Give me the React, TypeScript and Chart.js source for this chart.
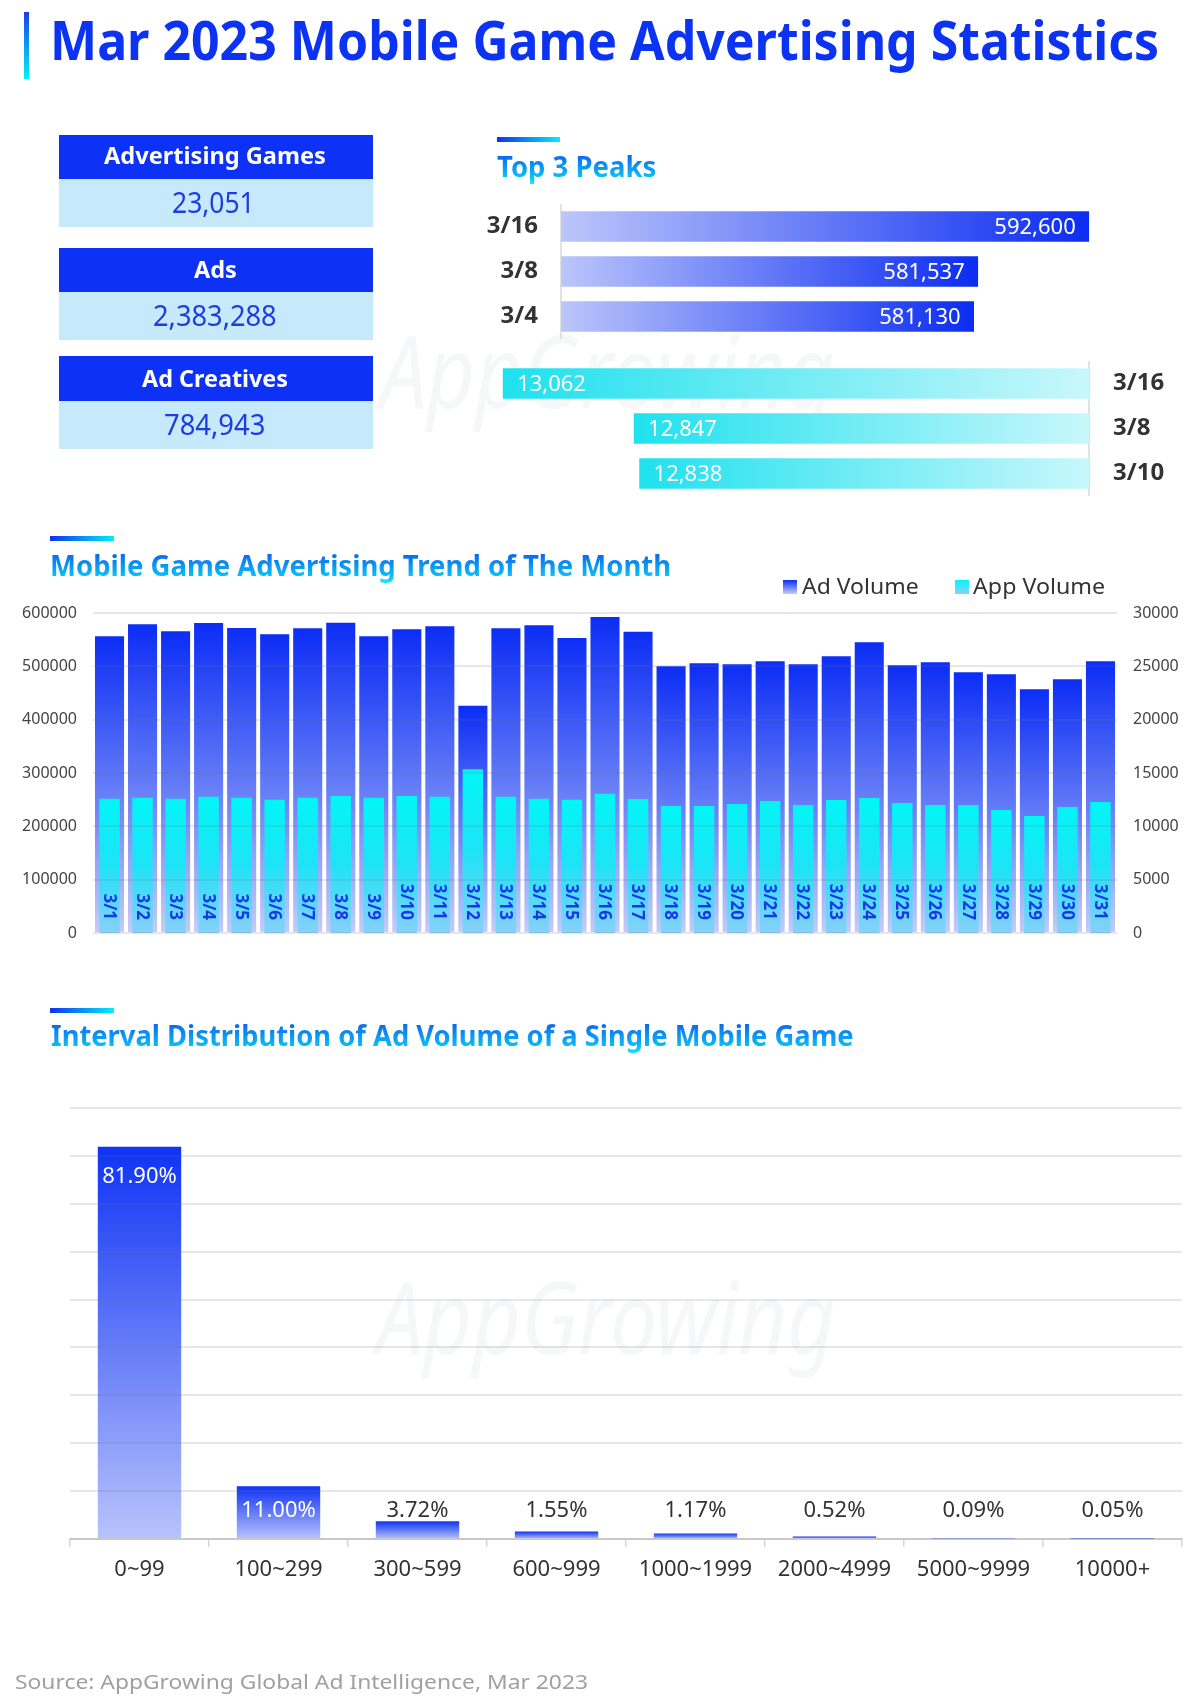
import React, { useEffect, useLayoutEffect, useRef } from 'react';
import { Chart, registerables } from 'chart.js';

Chart.register(...registerables);

const FONT = "'Noto Sans', 'Open Sans', sans-serif";
Chart.defaults.font.family = FONT;

// ---------- data ----------
const kpiTitles = ['Advertising Games', 'Ads', 'Ad Creatives'];
const kpiValues = ['23,051', '2,383,288', '784,943'];

const adPeakDates = ['3/16', '3/8', '3/4'];
const adPeakValues = [592600, 581537, 581130];
const appPeakDates = ['3/16', '3/8', '3/10'];
const appPeakValues = [13062, 12847, 12838];

const days = [
  '3/1', '3/2', '3/3', '3/4', '3/5', '3/6', '3/7', '3/8', '3/9', '3/10',
  '3/11', '3/12', '3/13', '3/14', '3/15', '3/16', '3/17', '3/18', '3/19', '3/20',
  '3/21', '3/22', '3/23', '3/24', '3/25', '3/26', '3/27', '3/28', '3/29', '3/30', '3/31',
];
const adVolume = [
  556300, 578800, 565600, 581130, 571900, 560000, 571300, 581537, 556300, 569400,
  575000, 426200, 571300, 576900, 553100, 592600, 565000, 500000, 505600, 503800,
  509400, 503800, 518800, 545000, 501900, 507500, 488800, 485000, 456900, 475600, 509400,
];
const appVolume = [
  12590, 12690, 12590, 12780, 12690, 12500, 12690, 12847, 12690, 12838,
  12780, 15340, 12780, 12590, 12500, 13062, 12560, 11900, 11900, 12090,
  12375, 12000, 12470, 12660, 12190, 12000, 12000, 11530, 10970, 11810, 12280,
];
const leftTicks = [0, 600000, 100000];
const rightTicks = [0, 30000, 5000];

const intervals = ['0~99', '100~299', '300~599', '600~999', '1000~1999', '2000~4999', '5000~9999', '10000+'];
const shares = [81.9, 11.0, 3.72, 1.55, 1.17, 0.52, 0.09, 0.05];

// ---------- helpers ----------
const fmt = (n: number) => String(n).replace(/\B(?=(\d{3})+(?!\d))/g, ',');

type FitProps = {
  text: string; x: number; cy: number; w: number; size: number;
  weight?: number; color?: string; bg?: string; italic?: boolean;
};
function Fit({ text, x, cy, w, size, weight = 400, color = '#333', bg, italic }: FitProps) {
  const ref = useRef<HTMLSpanElement>(null);
  useLayoutEffect(() => {
    const el = ref.current;
    if (!el) return;
    const fit = () => {
      const nat = el.offsetWidth;
      if (nat > 0) el.style.transform = `scaleX(${w / nat})`;
    };
    fit();
    const f = (document as any).fonts;
    if (f && f.ready) f.ready.then(fit);
  }, [text, w]);
  const style: any = {
    display: 'inline-block', whiteSpace: 'nowrap', fontFamily: FONT, fontSize: size,
    fontWeight: weight, lineHeight: 1.4, fontStyle: italic ? 'italic' : 'normal',
    transformOrigin: '0 50%', color,
  };
  if (bg) {
    style.backgroundImage = bg;
    style.WebkitBackgroundClip = 'text';
    style.backgroundClip = 'text';
    style.color = 'transparent';
    style.WebkitTextFillColor = 'transparent';
  }
  return (
    <div style={{ position: 'absolute', left: x, top: cy - 0.731 * size, height: 1.4 * size, whiteSpace: 'nowrap' }}>
      <span ref={ref} style={style}>{text}</span>
    </div>
  );
}

function Box({ x, y, w, h, bg }: { x: number; y: number; w: number; h: number; bg: string }) {
  return <div style={{ position: 'absolute', left: x, top: y, width: w, height: h, background: bg }} />;
}

function ChartCanvas({ x, y, w, h, make }: { x: number; y: number; w: number; h: number; make: () => any }) {
  const ref = useRef<HTMLCanvasElement>(null);
  useEffect(() => {
    const chart = new Chart(ref.current as HTMLCanvasElement, make());
    return () => chart.destroy();
  }, []);
  return (
    <canvas ref={ref} width={w} height={h}
      style={{ position: 'absolute', left: x, top: y, width: w, height: h, display: 'block' }} />
  );
}

const vGrad = (axis: string, c0: string, cMid: string | null, c1: string, fallback: string) => (c: any) => {
  const chart = c.chart;
  const area = chart.chartArea;
  if (!area || typeof c.raw !== 'number') return fallback;
  const sc = chart.scales[axis];
  let top = sc.getPixelForValue(c.raw);
  const bottom = sc.getPixelForValue(0);
  if (bottom - top < 1) top = bottom - 1;
  const g = chart.ctx.createLinearGradient(0, top, 0, bottom);
  g.addColorStop(0, c0);
  if (cMid) g.addColorStop(0.5, cMid);
  g.addColorStop(1, c1);
  return g;
};

const fixY = (width: number) => (s: any) => {
  s.width = width;
  s.paddingTop = 0;
  s.paddingBottom = 0;
};

// ---------- charts ----------
const adPeakConfig = () => ({
  type: 'bar',
  data: {
    labels: adPeakDates,
    datasets: [{
      data: adPeakValues,
      barThickness: 30,
      borderWidth: 0,
      backgroundColor: (c: any) => {
        const chart = c.chart;
        const area = chart.chartArea;
        if (!area || typeof c.raw !== 'number') return '#5a73f5';
        const end = chart.scales.x.getPixelForValue(c.raw);
        const g = chart.ctx.createLinearGradient(area.left, 0, end, 0);
        g.addColorStop(0, '#bcc6fb');
        g.addColorStop(1, '#0b2cf2');
        return g;
      },
    }],
  },
  options: {
    indexAxis: 'y', responsive: false, animation: false,
    layout: { padding: { left: 0, right: 37, top: 0, bottom: 0 } },
    plugins: { legend: { display: false }, tooltip: { enabled: false } },
    scales: {
      x: { display: false, min: 540000, max: 600000 },
      y: {
        position: 'left',
        grid: { display: false, drawTicks: false },
        border: { display: true, color: '#e2e2e2', width: 2 },
        ticks: { color: '#333', font: { size: 24, weight: 'bold' }, padding: 23 },
        afterFit: fixY(121),
      },
    },
  },
  plugins: [{
    id: 'adPeakLabels',
    afterDatasetsDraw(chart: any) {
      const { ctx } = chart;
      const meta = chart.getDatasetMeta(0);
      ctx.save();
      ctx.font = `22px ${FONT}`;
      ctx.fillStyle = '#ffffff';
      ctx.textAlign = 'right';
      ctx.textBaseline = 'middle';
      meta.data.forEach((bar: any, i: number) => {
        ctx.fillText(fmt(adPeakValues[i]), bar.x - 13, bar.y + 1);
      });
      ctx.restore();
    },
  }],
});

const appPeakConfig = () => ({
  type: 'bar',
  data: {
    labels: appPeakDates,
    datasets: [{
      data: appPeakValues,
      barThickness: 30,
      borderWidth: 0,
      backgroundColor: (c: any) => {
        const chart = c.chart;
        const area = chart.chartArea;
        if (!area || typeof c.raw !== 'number') return '#5ee8f0';
        const start = chart.scales.x.getPixelForValue(c.raw);
        const g = chart.ctx.createLinearGradient(start, 0, area.right, 0);
        g.addColorStop(0, '#1fe1ee');
        g.addColorStop(1, '#c8f7fb');
        return g;
      },
    }],
  },
  options: {
    indexAxis: 'y', responsive: false, animation: false,
    layout: { padding: { left: 10, right: 0, top: 0, bottom: 0 } },
    plugins: { legend: { display: false }, tooltip: { enabled: false } },
    scales: {
      x: { display: false, reverse: true, min: 12100, max: 13100 },
      y: {
        position: 'right',
        grid: { display: false, drawTicks: false },
        border: { display: true, color: '#e2e2e2', width: 2 },
        ticks: { color: '#333', font: { size: 24, weight: 'bold' }, padding: 24 },
        afterFit: fixY(111),
      },
    },
  },
  plugins: [{
    id: 'appPeakLabels',
    afterDatasetsDraw(chart: any) {
      const { ctx } = chart;
      const meta = chart.getDatasetMeta(0);
      ctx.save();
      ctx.font = `22px ${FONT}`;
      ctx.fillStyle = '#ffffff';
      ctx.textAlign = 'left';
      ctx.textBaseline = 'middle';
      meta.data.forEach((bar: any, i: number) => {
        ctx.fillText(fmt(appPeakValues[i]), bar.x + 14, bar.y + 1);
      });
      ctx.restore();
    },
  }],
});

const trendConfig = () => ({
  type: 'bar',
  data: {
    labels: days,
    datasets: [
      {
        label: 'Ad Volume', data: adVolume, yAxisID: 'y', order: 1, grouped: false,
        barPercentage: 0.88, categoryPercentage: 1, borderWidth: 0,
        backgroundColor: vGrad('y', '#0c2df5', '#6179f6', '#c3ccfa', '#3050f5'),
      },
      {
        label: 'App Volume', data: appVolume, yAxisID: 'y1', order: 0, grouped: false,
        barPercentage: 0.62, categoryPercentage: 1, borderWidth: 0,
        backgroundColor: vGrad('y1', '#02f6f6', '#1ee3f6', '#88d0fb', '#20e8f5'),
      },
    ],
  },
  options: {
    responsive: false, animation: false,
    layout: { padding: { left: 0, right: 0, top: 13, bottom: 12 } },
    plugins: { legend: { display: false }, tooltip: { enabled: false } },
    scales: {
      x: { display: false },
      y: {
        position: 'left', min: leftTicks[0], max: leftTicks[1],
        ticks: { stepSize: leftTicks[2], callback: (v: any) => String(v), color: '#444', font: { size: 16 }, padding: 16 },
        grid: { color: 'rgba(110,110,130,0.17)', lineWidth: 2, drawTicks: false, z: 1 },
        border: { display: false },
        afterFit: fixY(93),
      },
      y1: {
        position: 'right', min: rightTicks[0], max: rightTicks[1],
        ticks: { stepSize: rightTicks[2], callback: (v: any) => String(v), color: '#444', font: { size: 16 }, padding: 16 },
        grid: { display: false, drawTicks: false },
        border: { display: false },
        afterFit: fixY(83),
      },
    },
  },
  plugins: [{
    id: 'dayLabels',
    afterDatasetsDraw(chart: any) {
      const { ctx } = chart;
      const xs = chart.scales.x;
      const bottom = chart.chartArea.bottom;
      ctx.save();
      ctx.font = `bold 17px ${FONT}`;
      ctx.fillStyle = '#1438ea';
      ctx.textAlign = 'right';
      ctx.textBaseline = 'middle';
      days.forEach((d, i) => {
        const px = xs.getPixelForValue(i);
        ctx.save();
        ctx.translate(px - 1, bottom - 13);
        ctx.rotate(Math.PI / 2);
        ctx.fillText(d, 0, 0);
        ctx.restore();
      });
      ctx.restore();
    },
  }],
});

const distConfig = () => ({
  type: 'bar',
  data: {
    labels: intervals,
    datasets: [{
      data: shares, barPercentage: 0.6, categoryPercentage: 1, borderWidth: 0,
      backgroundColor: vGrad('y', '#0f33f5', null, '#b8c3fb', '#5a73f5'),
    }],
  },
  options: {
    responsive: false, animation: false,
    layout: { padding: { left: 70, right: 18, top: 13, bottom: 0 } },
    plugins: { legend: { display: false }, tooltip: { enabled: false } },
    scales: {
      x: {
        grid: { display: true, drawOnChartArea: false, drawTicks: true, tickLength: 8, color: '#d6d6d6', lineWidth: 1.5, offset: true },
        border: { display: true, color: '#dadada', width: 2 },
        ticks: { color: '#333', font: { size: 22 }, padding: 10 },
        afterFit: (s: any) => { s.height = 66; },
      },
      y: {
        min: 0, max: 90,
        ticks: { display: false, stepSize: 10 },
        grid: { color: 'rgba(110,110,130,0.17)', lineWidth: 2, drawTicks: false, z: 1 },
        border: { display: false },
        afterFit: (s: any) => { s.width = 0; },
      },
    },
  },
  plugins: [{
    id: 'shareLabels',
    afterDatasetsDraw(chart: any) {
      const { ctx } = chart;
      const meta = chart.getDatasetMeta(0);
      const bottom = chart.chartArea.bottom;
      ctx.save();
      ctx.font = `22px ${FONT}`;
      ctx.textAlign = 'center';
      ctx.textBaseline = 'middle';
      meta.data.forEach((bar: any, i: number) => {
        const y = Math.min(bar.y + 30, bottom - 28);
        ctx.fillStyle = y - 12 > bar.y ? '#ffffff' : '#333333';
        ctx.fillText(shares[i].toFixed(2) + '%', bar.x, y);
      });
      ctx.restore();
    },
  }],
});

// ---------- page ----------
const sectionGrad = 'linear-gradient(180deg, #0a5ef0 0%, #0a6ef0 25%, #0cc4f5 80%, #2ff2f8 100%)';
const accentGrad = 'linear-gradient(90deg, #1030f0 0%, #00f0f8 100%)';

const kpiLayout = [
  { top: 135, hh: 44, vh: 48, tx: 104, tw: 222, tcy: 156, vx: 172, vw: 83, vcy: 203 },
  { top: 248, hh: 44, vh: 48, tx: 194, tw: 43, tcy: 270, vx: 153, vw: 124, vcy: 316 },
  { top: 356, hh: 45, vh: 48, tx: 142, tw: 146, tcy: 378.5, vx: 164, vw: 101, vcy: 425 },
];

export default function App() {
  return (
    <div style={{ position: 'absolute', left: 0, top: 0, width: 1200, height: 1705, background: '#fff', overflow: 'hidden', fontFamily: FONT }}>
      {/* watermarks */}
      <Fit text="AppGrowing" x={380} cy={372} w={455} size={100} italic color="#f6f7f9" />
      <Fit text="AppGrowing" x={376} cy={1318} w={460} size={100} italic color="#f6f7f9" />

      {/* main title */}
      <div style={{ position: 'absolute', left: 24, top: 12, width: 5, height: 67, background: 'linear-gradient(180deg, #1a3cf0 0%, #00f5f5 100%)' }} />
      <Fit text="Mar 2023 Mobile Game Advertising Statistics" x={50} cy={42} w={1109} size={53} weight={700} color="#0d33f2" />

      {/* KPI boxes */}
      {kpiTitles.map((t, i) => {
        const L = kpiLayout[i];
        return (
          <React.Fragment key={t}>
            <Box x={59} y={L.top} w={314} h={L.hh} bg="#0e32f5" />
            <Box x={59} y={L.top + L.hh} w={314} h={L.vh} bg="#c6e9fc" />
            <Fit text={t} x={L.tx} cy={L.tcy} w={L.tw} size={24} weight={700} color="#ffffff" />
            <Fit text={kpiValues[i]} x={L.vx} cy={L.vcy} w={L.vw} size={29} weight={400} color="#1d3de2" />
          </React.Fragment>
        );
      })}

      {/* Top 3 peaks */}
      <div style={{ position: 'absolute', left: 497, top: 137, width: 63, height: 5, background: accentGrad }} />
      <Fit text="Top 3 Peaks" x={497} cy={167} w={159} size={28} weight={700} bg={sectionGrad} />
      <ChartCanvas x={440} y={204} w={760} h={135} make={adPeakConfig} />
      <ChartCanvas x={470} y={361} w={730} h={135} make={appPeakConfig} />

      {/* Trend */}
      <div style={{ position: 'absolute', left: 50, top: 536, width: 64, height: 5, background: accentGrad }} />
      <Fit text="Mobile Game Advertising Trend of The Month" x={50} cy={566} w={621} size={28} weight={700} bg={sectionGrad} />
      <div style={{ position: 'absolute', left: 783, top: 580, width: 14, height: 14, background: 'linear-gradient(180deg, #0c2df5 0%, #c3ccfa 100%)' }} />
      <Fit text="Ad Volume" x={802} cy={586} w={117} size={22} color="#333" />
      <div style={{ position: 'absolute', left: 955, top: 580, width: 14, height: 14, background: 'linear-gradient(180deg, #02f6f6 0%, #88d0fb 100%)' }} />
      <Fit text="App Volume" x={973} cy={586} w={132} size={22} color="#333" />
      <ChartCanvas x={0} y={600} w={1200} h={345} make={trendConfig} />

      {/* Distribution */}
      <div style={{ position: 'absolute', left: 50, top: 1008, width: 64, height: 5, background: accentGrad }} />
      <Fit text="Interval Distribution of Ad Volume of a Single Mobile Game" x={51} cy={1036.5} w={803} size={29} weight={700} bg={sectionGrad} />
      <ChartCanvas x={0} y={1095} w={1200} h={510} make={distConfig} />

      {/* Source */}
      <Fit text="Source: AppGrowing Global Ad Intelligence, Mar 2023" x={15} cy={1683} w={573} size={20} color="#a0a0a0" />
    </div>
  );
}
